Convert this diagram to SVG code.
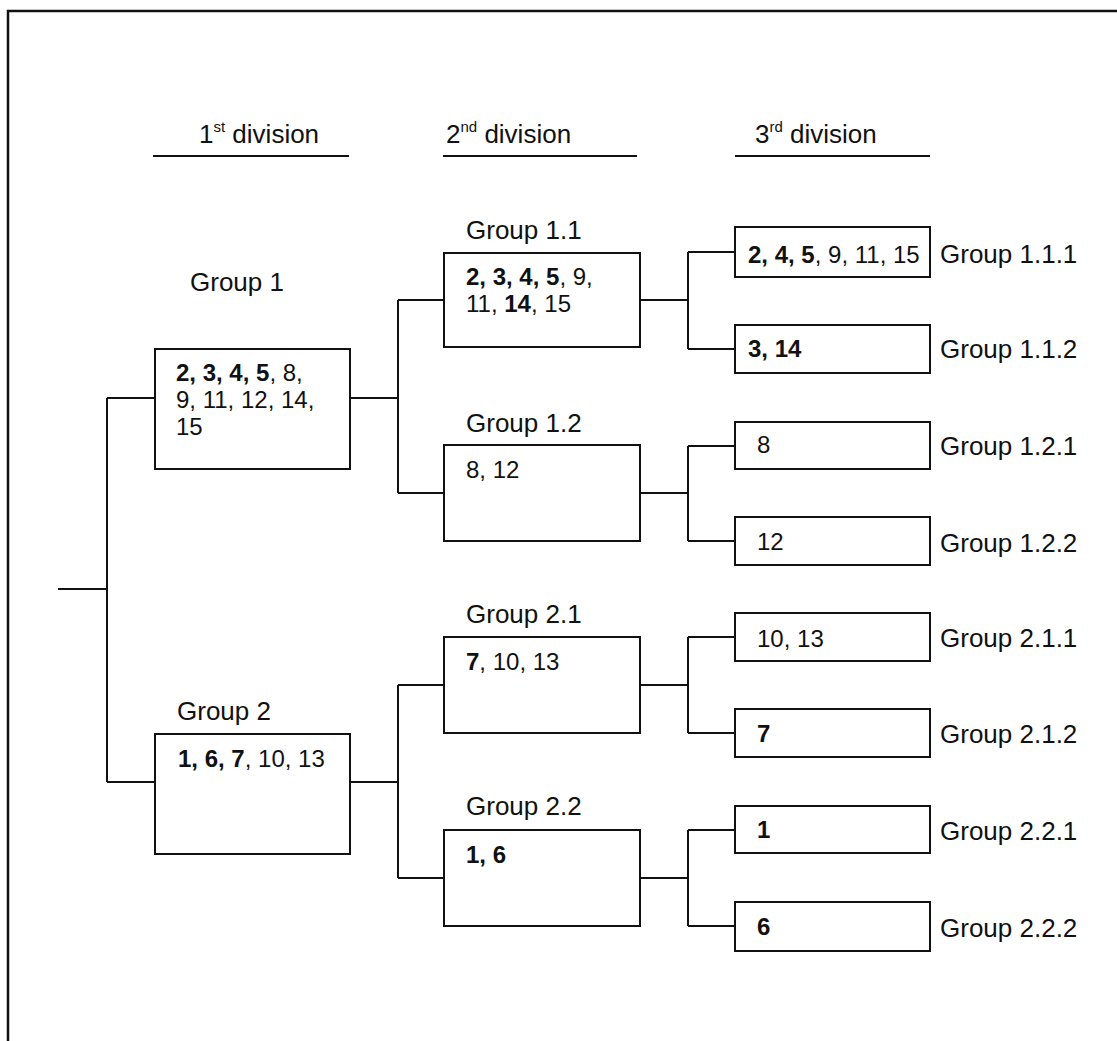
<svg xmlns="http://www.w3.org/2000/svg" width="1117" height="1041" viewBox="0 0 1117 1041">
  <style>
    .frame { fill: none; stroke: #111; stroke-width: 2.5; }
    .box { fill: #fff; stroke: #111; stroke-width: 2; }
    .wire { fill: none; stroke: #111; stroke-width: 2; }
    .rule { stroke: #111; stroke-width: 2; }
    .t { font-family: "Liberation Sans", Arial, sans-serif; font-size: 24px; fill: #111; }
    .lbl { font-family: "Liberation Sans", Arial, sans-serif; font-size: 26px; fill: #111; }
    .b { font-weight: bold; }
    .sup { font-size: 15px; }
  </style>

  <!-- page frame -->
  <path class="frame" d="M8,1041 V11 H1117"/>

  <!-- column headings -->
  <g id="headings">
    <text class="lbl" x="199" y="143">1<tspan class="sup" dy="-11">st</tspan><tspan dy="11"> division</tspan></text>
    <line class="rule" x1="153" y1="156" x2="349" y2="156"/>
    <text class="lbl" x="446" y="143">2<tspan class="sup" dy="-11">nd</tspan><tspan dy="11"> division</tspan></text>
    <line class="rule" x1="443" y1="156" x2="637" y2="156"/>
    <text class="lbl" x="755" y="143">3<tspan class="sup" dy="-11">rd</tspan><tspan dy="11"> division</tspan></text>
    <line class="rule" x1="735" y1="156" x2="930" y2="156"/>
  </g>

  <!-- connectors -->
  <g id="connectors">
    <path class="wire" d="M58,589 H107 M107,398 V782 M107,398 H155 M107,782 H155"/>
    <path class="wire" d="M350,398 H398 M398,300 V493 M398,300 H444 M398,493 H444"/>
    <path class="wire" d="M350,782 H398 M398,685 V878 M398,685 H444 M398,878 H444"/>
    <path class="wire" d="M640,300 H688 M688,252 V349 M688,252 H735 M688,349 H735"/>
    <path class="wire" d="M640,493 H688 M688,446 V541 M688,446 H735 M688,541 H735"/>
    <path class="wire" d="M640,685 H688 M688,637 V733 M688,637 H735 M688,733 H735"/>
    <path class="wire" d="M640,878 H688 M688,830 V926 M688,830 H735 M688,926 H735"/>
  </g>

  <!-- first division -->
  <g id="group-1">
    <text class="lbl" x="190" y="291">Group 1</text>
    <rect class="box" x="155" y="349" width="195" height="120"/>
    <text class="t" x="176" y="381"><tspan class="b">2, 3, 4, 5</tspan>, 8,</text>
    <text class="t" x="176" y="408">9, 11, 12, 14,</text>
    <text class="t" x="176" y="435">15</text>
  </g>
  <g id="group-2">
    <text class="lbl" x="177" y="720">Group 2</text>
    <rect class="box" x="155" y="734" width="195" height="120"/>
    <text class="t" x="178" y="767"><tspan class="b">1, 6, 7</tspan>, 10, 13</text>
  </g>

  <!-- second division -->
  <g id="group-1-1">
    <text class="lbl" x="466" y="239">Group 1.1</text>
    <rect class="box" x="444" y="253" width="196" height="94"/>
    <text class="t" x="466" y="285"><tspan class="b">2, 3, 4, 5</tspan>, 9,</text>
    <text class="t" x="466" y="312">11, <tspan class="b">14</tspan>, 15</text>
  </g>
  <g id="group-1-2">
    <text class="lbl" x="466" y="432">Group 1.2</text>
    <rect class="box" x="444" y="445" width="196" height="96"/>
    <text class="t" x="466" y="478">8, 12</text>
  </g>
  <g id="group-2-1">
    <text class="lbl" x="466" y="623">Group 2.1</text>
    <rect class="box" x="444" y="637" width="196" height="96"/>
    <text class="t" x="466" y="670"><tspan class="b">7</tspan>, 10, 13</text>
  </g>
  <g id="group-2-2">
    <text class="lbl" x="466" y="815">Group 2.2</text>
    <rect class="box" x="444" y="830" width="196" height="96"/>
    <text class="t b" x="466" y="863">1, 6</text>
  </g>

  <!-- third division -->
  <g id="group-1-1-1">
    <rect class="box" x="735" y="227" width="195" height="50"/>
    <text class="t" x="748" y="263"><tspan class="b">2, 4, 5</tspan>, 9, 11, 15</text>
    <text class="lbl" x="940" y="263">Group 1.1.1</text>
  </g>
  <g id="group-1-1-2">
    <rect class="box" x="735" y="325" width="195" height="48"/>
    <text class="t b" x="748" y="357">3, 14</text>
    <text class="lbl" x="940" y="358">Group 1.1.2</text>
  </g>
  <g id="group-1-2-1">
    <rect class="box" x="735" y="422" width="195" height="47"/>
    <text class="t" x="757" y="453">8</text>
    <text class="lbl" x="940" y="455">Group 1.2.1</text>
  </g>
  <g id="group-1-2-2">
    <rect class="box" x="735" y="517" width="195" height="48"/>
    <text class="t" x="757" y="550">12</text>
    <text class="lbl" x="940" y="552">Group 1.2.2</text>
  </g>
  <g id="group-2-1-1">
    <rect class="box" x="735" y="613" width="195" height="48"/>
    <text class="t" x="757" y="647">10, 13</text>
    <text class="lbl" x="940" y="647">Group 2.1.1</text>
  </g>
  <g id="group-2-1-2">
    <rect class="box" x="735" y="709" width="195" height="48"/>
    <text class="t b" x="757" y="742">7</text>
    <text class="lbl" x="940" y="743">Group 2.1.2</text>
  </g>
  <g id="group-2-2-1">
    <rect class="box" x="735" y="806" width="195" height="47"/>
    <text class="t b" x="757" y="838">1</text>
    <text class="lbl" x="940" y="840">Group 2.2.1</text>
  </g>
  <g id="group-2-2-2">
    <rect class="box" x="735" y="902" width="195" height="49"/>
    <text class="t b" x="757" y="935">6</text>
    <text class="lbl" x="940" y="937">Group 2.2.2</text>
  </g>
</svg>
